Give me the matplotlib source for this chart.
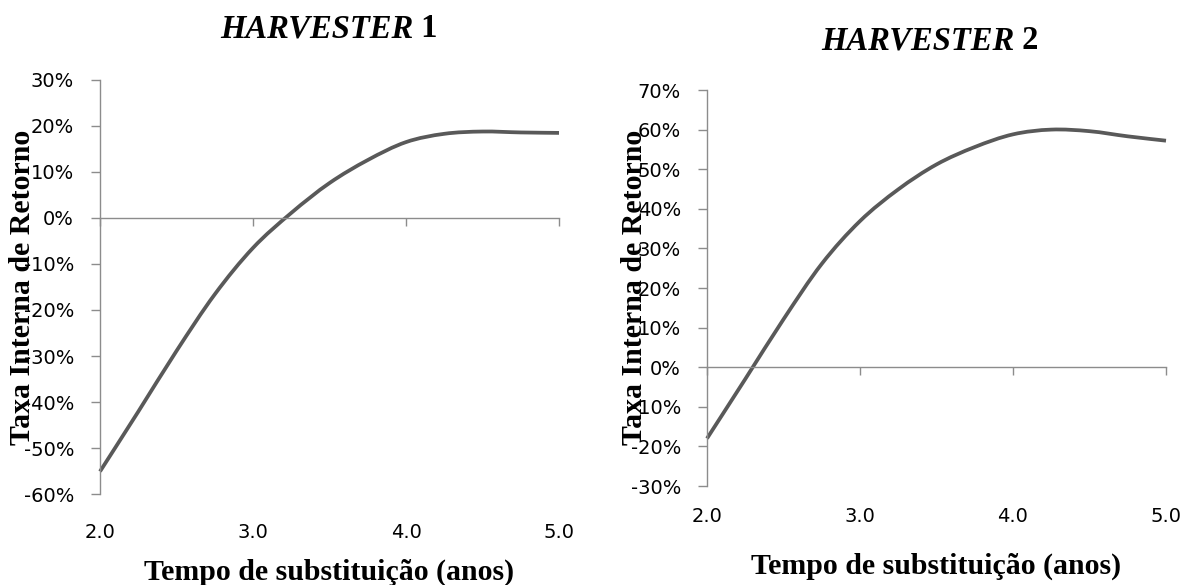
import numpy as np
import matplotlib
matplotlib.use('Agg')
import matplotlib.pyplot as plt
from matplotlib.path import Path
from matplotlib.patches import PathPatch
import matplotlib.transforms as mtransforms

# ---- data ----
years = [2.0, 2.25, 2.5, 2.75, 3.0, 3.25, 3.5, 3.75, 4.0, 4.25, 4.5, 4.75, 5.0]
tir_h1 = [-55.1, -42.1, -28.9, -16.6, -6.5, 1.1, 7.6, 12.6, 16.5, 18.3, 18.8, 18.6, 18.5]
tir_h2 = [-18.0, -3.0, 12.1, 26.1, 36.9, 44.9, 51.2, 55.6, 58.8, 60.0, 59.6, 58.3, 57.2]

x_ticks = [2.0, 3.0, 4.0, 5.0]
x_tick_labels = ['2.0', '3.0', '4.0', '5.0']
y_ticks_h1 = [30, 20, 10, 0, -10, -20, -30, -40, -50, -60]
y_ticks_h2 = [70, 60, 50, 40, 30, 20, 10, 0, -10, -20, -30]
titles = ['HARVESTER', 'HARVESTER']
title_nums = [' 1', ' 2']
xlabel = 'Tempo de substituição (anos)'
ylabel = 'Taxa Interna de Retorno'

LINE = '#595959'
AX = '#8c8c8c'
TICKFONT = 'DejaVu Sans'
SERIF = 'Liberation Serif'
W, H = 1185, 585


def smooth_path(xs, ys):
    pts = np.column_stack([xs, ys]).astype(float)
    n = len(pts)
    verts = [pts[0]]
    codes = [Path.MOVETO]
    for i in range(n - 1):
        p0 = pts[i - 1] if i > 0 else pts[i]
        p1 = pts[i]
        p2 = pts[i + 1]
        p3 = pts[i + 2] if i + 2 < n else pts[i + 1]
        c1 = p1 + (p2 - p0) / 6.0
        c2 = p2 - (p3 - p1) / 6.0
        verts += [c1, c2, p2]
        codes += [Path.CURVE4] * 3
    return Path(verts, codes)


fig = plt.figure(figsize=(W / 100, H / 100), dpi=100)

specs = [
    dict(rect=[100 / W, 1 - 494 / H, 459 / W, (494 - 80) / H],
         data=tir_h1, yticks=y_ticks_h1, ylim=(-60, 30),
         title_xy=(413, 37), ylab_xy=(23, 287), xlab_y=580, xtl_y=530.5),
    dict(rect=[707 / W, 1 - 486 / H, 459 / W, (486 - 90) / H],
         data=tir_h2, yticks=y_ticks_h2, ylim=(-30, 70),
         title_xy=(1014, 49), ylab_xy=(634, 287), xlab_y=574, xtl_y=515),
]

for k, s in enumerate(specs):
    ax = fig.add_axes(s['rect'])
    ax.set_xlim(2.0, 5.0)
    ax.set_ylim(*s['ylim'])
    ax.patch.set_alpha(0)
    for side in ['top', 'right']:
        ax.spines[side].set_visible(False)
    ax.spines['bottom'].set_position(('data', 0))
    for side in ['bottom', 'left']:
        ax.spines[side].set_color(AX)
        ax.spines[side].set_linewidth(1.0)

    ax.set_yticks(s['yticks'])
    ax.set_yticklabels([f'{v}%' for v in s['yticks']], fontfamily=TICKFONT,
                       fontsize=14, color='#000000')
    ax.tick_params(axis='y', direction='out', length=6.2, width=1, color=AX, pad=12.5)
    ax.set_xticks(x_ticks)
    ax.tick_params(axis='x', direction='out', length=6, width=1, color=AX,
                   labelbottom=False)

    # x tick labels at the bottom of the plot area
    trans = mtransforms.blended_transform_factory(ax.transData, fig.transFigure)
    for xv, lab in zip(x_ticks, x_tick_labels):
        ax.text(xv, 1 - s['xtl_y'] / H, lab, transform=trans, ha='center',
                va='center_baseline', fontfamily=TICKFONT, fontsize=14,
                color='#000000')

    patch = PathPatch(smooth_path(years, s['data']), fill=False, edgecolor=LINE,
                      lw=2.7, capstyle='butt', joinstyle='round', clip_on=False)
    ax.add_patch(patch)

    # titles
    tx, ty = s['title_xy']
    fig.text(tx / W, 1 - ty / H, titles[k], ha='right', va='baseline',
             fontfamily=SERIF, fontweight='bold', fontstyle='italic', fontsize=23.5)
    fig.text(tx / W, 1 - ty / H, title_nums[k], ha='left', va='baseline',
             fontfamily=SERIF, fontweight='bold', fontsize=23.5)

    # axis labels
    fig.text(s['ylab_xy'][0] / W, 1 - s['ylab_xy'][1] / H, ylabel,
             rotation=90, ha='center', va='center', fontfamily=SERIF,
             fontweight='bold', fontsize=21.5)
    cx = (s['rect'][0] + s['rect'][2] / 2)
    fig.text(cx, 1 - s['xlab_y'] / H, xlabel, ha='center', va='baseline',
             fontfamily=SERIF, fontweight='bold', fontsize=21.5)

fig.savefig('out.png', dpi=100)
